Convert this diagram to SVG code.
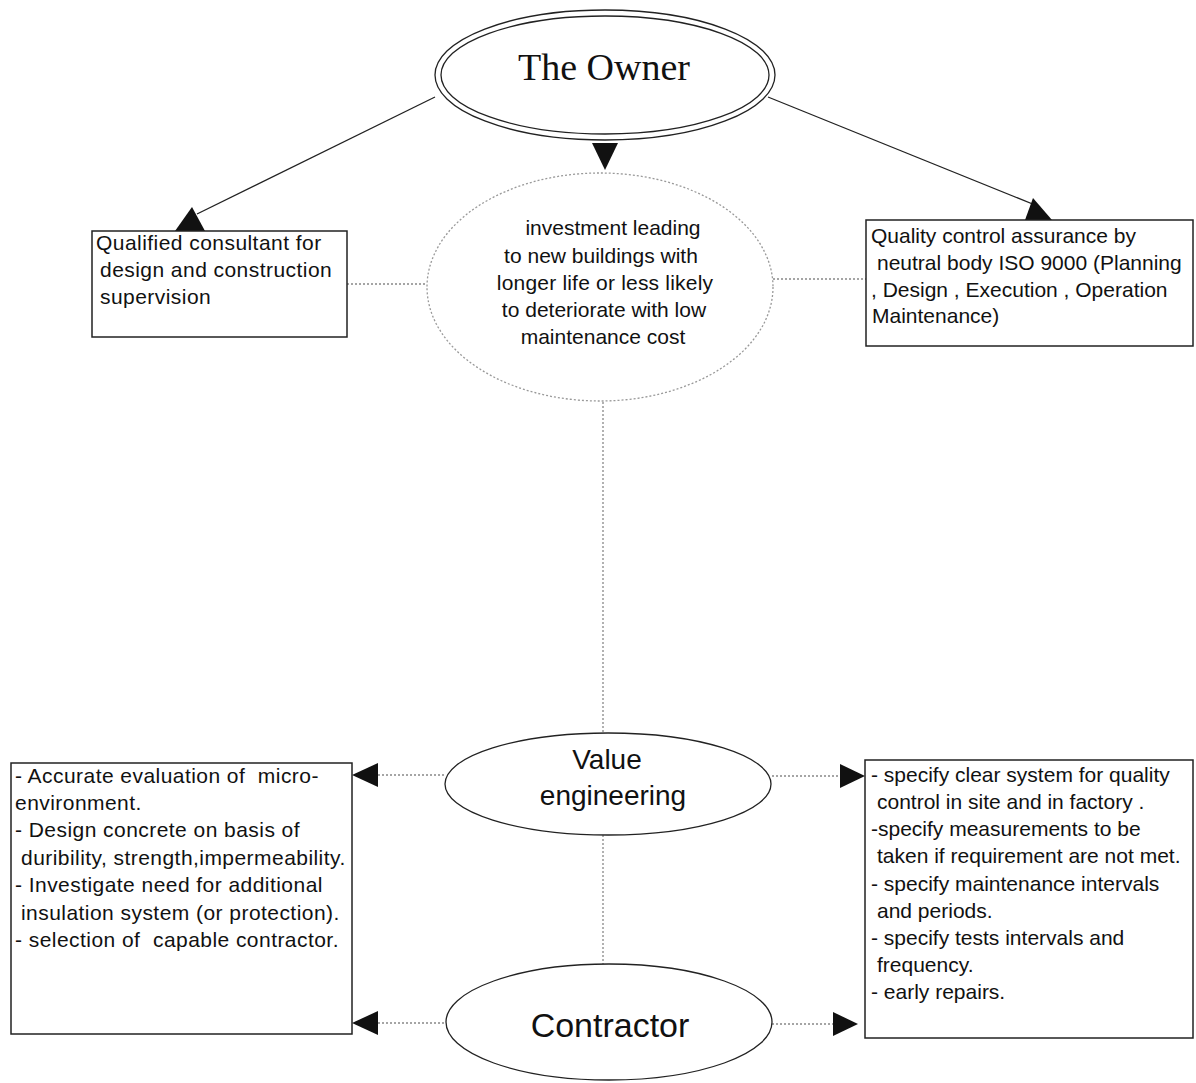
<svg xmlns="http://www.w3.org/2000/svg" width="1196" height="1083" viewBox="0 0 1196 1083">
<style>
.box{fill:#fff;stroke:#222;stroke-width:1.5}
.ell{fill:#fff;stroke:#222;stroke-width:1.3}
.dot{fill:none;stroke:#888;stroke-width:1.3;stroke-dasharray:2 2}
.solid{fill:none;stroke:#222;stroke-width:1.3}
.head{fill:#111}
.t{font-family:"Liberation Sans",Arial,sans-serif;font-size:21px;fill:#111;white-space:pre}
.c{text-anchor:middle}
.ls{letter-spacing:0.45px}
</style>
<rect width="1196" height="1083" fill="#fff"/>
<g id="connectors">
<line class="solid" x1="435" y1="97" x2="197" y2="214"/>
<polygon class="head" points="192,207 175,231 205,231"/>
<line class="solid" x1="768" y1="97" x2="1040" y2="207"/>
<polygon class="head" points="1033,198 1025,220 1052,220"/>
<polygon class="head" points="592,143 618,143 605,170"/>
<line class="dot" x1="347" y1="284" x2="427" y2="284"/>
<line class="dot" x1="773" y1="279" x2="866" y2="279"/>
<line class="dot" x1="603" y1="402" x2="603" y2="733"/>
<line class="dot" x1="603" y1="835" x2="603" y2="964"/>
<line class="dot" x1="378" y1="775" x2="445" y2="775"/>
<polygon class="head" points="352,775 378,763 378,787"/>
<line class="dot" x1="378" y1="1023" x2="446" y2="1023"/>
<polygon class="head" points="352,1023 378,1011 378,1035"/>
<line class="dot" x1="772" y1="776" x2="840" y2="776"/>
<polygon class="head" points="865,776 840,764 840,788"/>
<line class="dot" x1="772" y1="1024" x2="833" y2="1024"/>
<polygon class="head" points="858,1024 833,1012 833,1036"/>
</g>
<g id="owner">
<ellipse class="ell" cx="605" cy="75" rx="170" ry="65"/>
<ellipse class="ell" cx="605" cy="75" rx="164" ry="59"/>
<text x="604" y="80" text-anchor="middle" style="font-family:'Liberation Serif','Times New Roman',serif;font-size:38px;fill:#111">The Owner</text>
</g>
<g id="investment">
<ellipse cx="600" cy="287" rx="173" ry="114" fill="#fff" stroke="#999" stroke-width="1.3" stroke-dasharray="2 2"/>
<text class="t c" x="613" y="235">investment leading</text>
<text class="t c" x="601" y="263">to new buildings with</text>
<text class="t c" x="605" y="290" style="letter-spacing:0.2px">longer life or less likely</text>
<text class="t c" x="604" y="317">to deteriorate with low</text>
<text class="t c" x="603" y="344">maintenance cost</text>
</g>
<g id="consultant">
<rect class="box" x="92" y="231" width="255" height="106"/>
<text class="t ls" x="96" y="250">Qualified consultant for</text>
<text class="t ls" x="100" y="277">design and construction</text>
<text class="t ls" x="100" y="304">supervision</text>
</g>
<g id="quality">
<rect class="box" x="866" y="220" width="327" height="126"/>
<text class="t" x="871" y="243">Quality control assurance by</text>
<text class="t" x="877" y="270">neutral body ISO 9000 (Planning</text>
<text class="t" x="871" y="297">, Design , Execution , Operation</text>
<text class="t" x="872" y="323">Maintenance)</text>
</g>
<g id="value">
<ellipse class="ell" cx="608" cy="784" rx="163" ry="51"/>
<text x="607" y="769" text-anchor="middle" style="font-family:'Liberation Sans',Arial,sans-serif;font-size:28px;fill:#111">Value</text>
<text x="613" y="805" text-anchor="middle" style="font-family:'Liberation Sans',Arial,sans-serif;font-size:28px;fill:#111">engineering</text>
</g>
<g id="contractor">
<ellipse class="ell" cx="609" cy="1022" rx="163" ry="58"/>
<text x="610" y="1037" text-anchor="middle" style="font-family:'Liberation Sans',Arial,sans-serif;font-size:34px;fill:#111">Contractor</text>
</g>
<g id="owner-tasks">
<rect class="box" x="11" y="763" width="341" height="271"/>
<text class="t ls" x="15" y="783">- Accurate evaluation of  micro-</text>
<text class="t ls" x="15" y="810">environment.</text>
<text class="t ls" x="15" y="837">- Design concrete on basis of</text>
<text class="t ls" x="21" y="865">duribility, strength,impermeability.</text>
<text class="t ls" x="15" y="892">- Investigate need for additional</text>
<text class="t ls" x="21" y="920">insulation system (or protection).</text>
<text class="t ls" x="15" y="947">- selection of  capable contractor.</text>
</g>
<g id="contractor-tasks">
<rect class="box" x="865" y="760" width="328" height="278"/>
<text class="t" x="871" y="782">- specify clear system for quality</text>
<text class="t" x="877" y="809">control in site and in factory .</text>
<text class="t" x="871" y="836">-specify measurements to be</text>
<text class="t" x="877" y="863">taken if requirement are not met.</text>
<text class="t" x="871" y="891">- specify maintenance intervals</text>
<text class="t" x="877" y="918">and periods.</text>
<text class="t" x="871" y="945">- specify tests intervals and</text>
<text class="t" x="877" y="972">frequency.</text>
<text class="t" x="871" y="999">- early repairs.</text>
</g>
</svg>
